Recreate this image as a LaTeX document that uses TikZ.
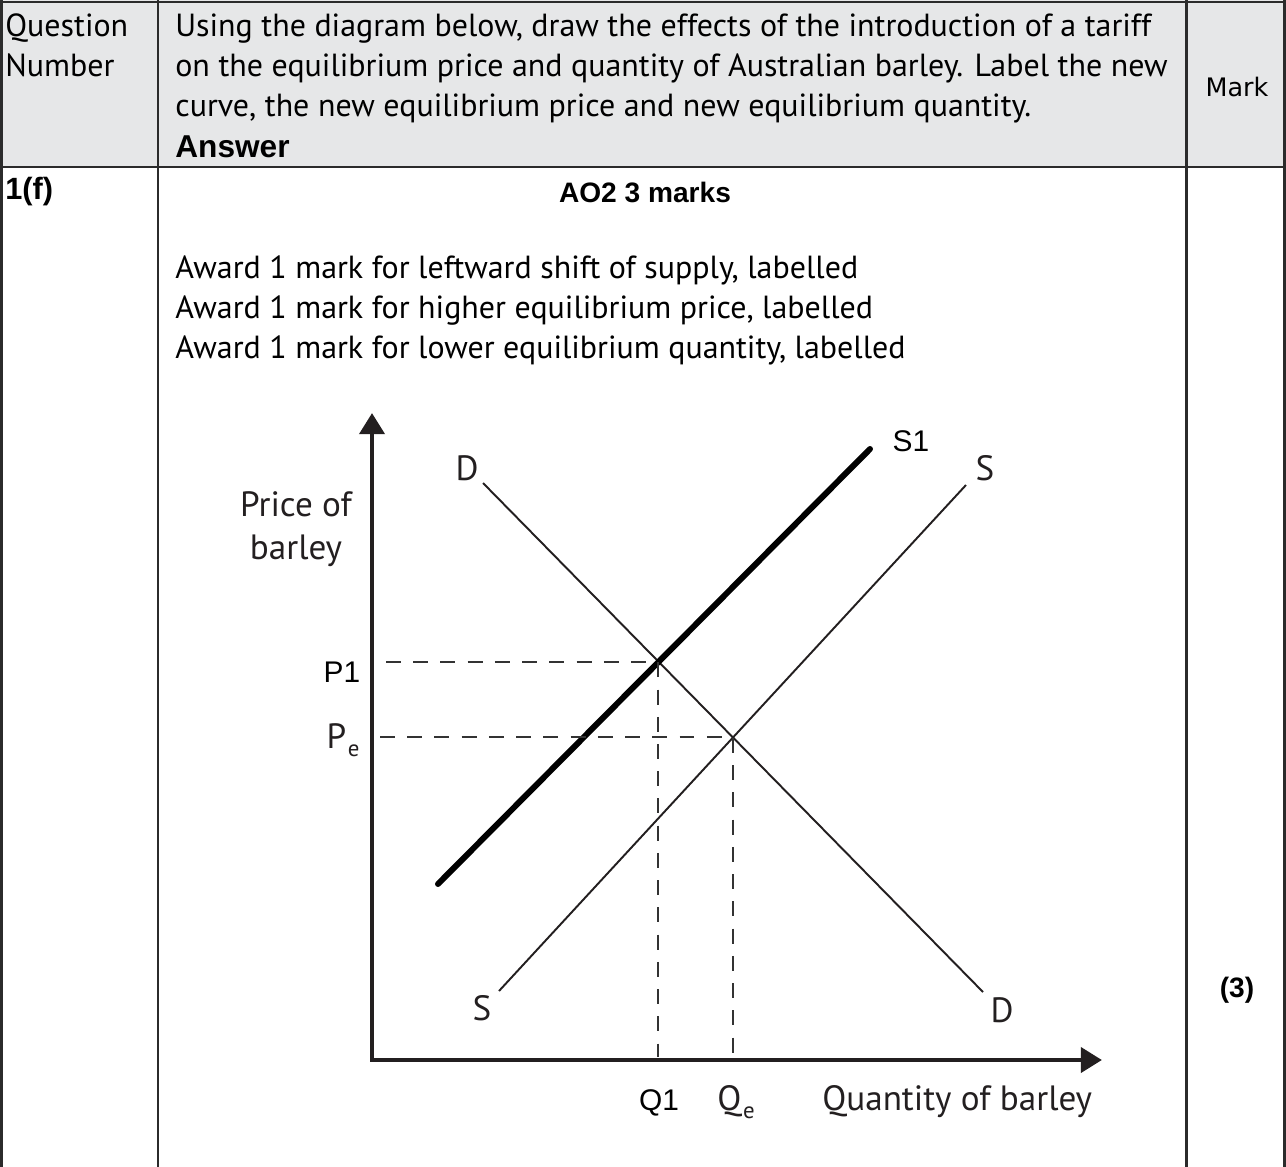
\documentclass[tikz,border=0pt]{standalone}
\usepackage{fontspec}
\setmainfont{PT Sans}
\newfontfamily\arialfont{Liberation Sans}
\newfontfamily\wideface{DejaVu Sans}
\usetikzlibrary{arrows.meta, calc}
\definecolor{headgrey}{HTML}{E6E7E8}
\definecolor{ruleblack}{HTML}{2B2B2B}
\definecolor{inkdark}{HTML}{231F20}
\definecolor{dashgrey}{HTML}{333333}

\begin{document}
\begin{tikzpicture}[
    x=0.02cm, y=-0.02cm,
    rule/.style={draw=ruleblack, line width=1.7pt},
    body/.style={anchor=base west, inner sep=0pt, font=\fontsize{18.2}{22}\selectfont},
    heavy/.style={inner sep=0pt, font=\arialfont\bfseries\fontsize{16}{19}\selectfont},
    axislabel/.style={inner sep=0pt, text=inkdark, align=center,
        font=\fontsize{20}{24.4}\selectfont},
    pointlabel/.style={inner sep=0pt, font=\arialfont\fontsize{17}{20}\selectfont},
    axis/.style={line width=2.8pt, draw=inkdark,
        {Triangle[length=12pt,width=14pt]}-{Triangle[length=12pt,width=14pt]}},
    curve/.style={line width=1.1pt, draw=inkdark},
    newcurve/.style={line width=3.4pt, line cap=round, draw=black},
    guide/.style={line width=1.6pt, draw=dashgrey, dash pattern=on 8.5pt off 7pt}
]
\useasboundingbox (0,0) rectangle (1286,1167);

% Table
\fill[headgrey] (0,0) rectangle (1286,167);
\draw[rule] (0,2) -- (1286,2);
\draw[rule] (0,167) -- (1286,167);
\foreach \cx in {1.5,158,1186,1284.5}
    \draw[rule] (\cx,0) -- (\cx,1167);

% Header row
\node[body] (qnum1) at (5,36) {Question};
\node[body] (qnum2) at (5,76) {Number};
\node[body] (ask1) at (175,36) {Using the diagram below, draw the effects of the introduction of a tariff};
\node[body] (ask2) at (175,76) {on the equilibrium price and quantity of Australian barley. Label the new};
\node[body] (ask3) at (175,116) {curve, the new equilibrium price and new equilibrium quantity.};
\node[heavy, anchor=base west, font=\arialfont\bfseries\fontsize{18}{20}\selectfont] (answer) at (175,157) {Answer};
\node[inner sep=0pt, font=\wideface\fontsize{14.5}{18}\selectfont] (mark) at (1237,87) {Mark};

% Answer row
\node[heavy, anchor=west, font=\arialfont\bfseries\fontsize{17.5}{20}\selectfont] (part) at (5,192) {1(f)};
\node[heavy] (ao) at (645,192) {AO2 3 marks};
\node[body] (award1) at (175,278) {Award 1 mark for leftward shift of supply, labelled};
\node[body] (award2) at (175,318) {Award 1 mark for higher equilibrium price, labelled};
\node[body] (award3) at (175,358) {Award 1 mark for lower equilibrium quantity, labelled};
\node[heavy] (total) at (1237,990) {(3)};

% Diagram points
\coordinate (origin) at (372,1060);
\coordinate (ytip) at (372,413);
\coordinate (xtip) at (1102,1060);
\coordinate (Dtop) at (483,483);
\coordinate (Dbot) at (983,992);
\coordinate (Sbot) at (499,991);
\coordinate (Stop) at (966,485);
\coordinate (S1bot) at (438,884);
\coordinate (S1top) at (870,449);
\coordinate (E0) at (733,737);
\coordinate (E1) at (658,662);

% Axes and curves
\draw[axis] (ytip) -- (origin) -- (xtip);
\draw[curve] (Dtop) -- (Dbot);
\draw[curve] (Sbot) -- (Stop);
\draw[newcurve] (S1bot) -- (S1top);

% Dashed guides
\draw[guide] ($(origin |- E1)+(14,0)$) -- (E1) -- ($(E1 |- origin)+(0,-3)$);
\draw[guide] ($(origin |- E0)+(8,0)$) -- (E0) -- ($(E0 |- origin)+(0,-5)$);

% Labels
\node[axislabel] (pricelab) at (296,529) {Price of\\barley};
\node[axislabel, anchor=base west] (qtylab) at (822,1110) {Quantity of barley};
\node[pointlabel] (p1lab) at (342,672) {P1};
\node[axislabel] (pelab) at (343,740) {P\kern1pt\raisebox{-0.45ex}{\fontsize{13}{13}\selectfont e}};
\node[pointlabel] (q1lab) at (659,1103) {Q1};
\node[axislabel] (qelab) at (736,1102) {Q\kern1pt\raisebox{-0.45ex}{\fontsize{13}{13}\selectfont e}};
\node[axislabel] (dtoplab) at (467,468) {D};
\node[axislabel] (stoplab) at (985,468) {S};
\node[axislabel] (sbotlab) at (482,1008) {S};
\node[axislabel] (dbotlab) at (1002,1010) {D};
\node[pointlabel] (s1lab) at (911,441) {S1};

\end{tikzpicture}
\end{document}
